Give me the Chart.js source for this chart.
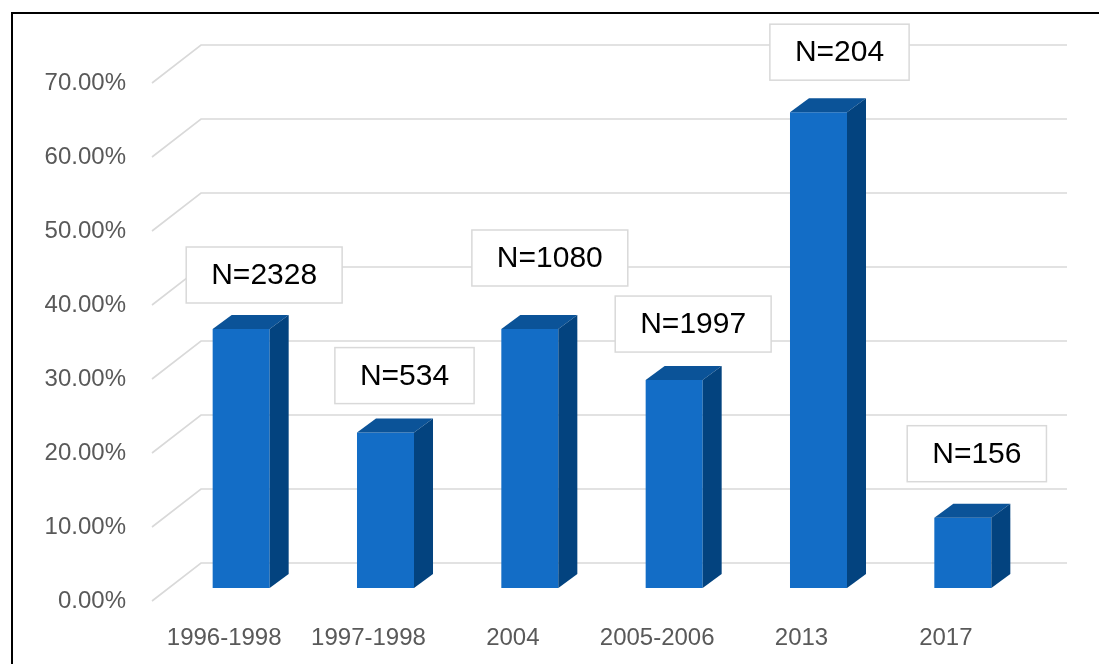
<!DOCTYPE html>
<html>
<head>
<meta charset="utf-8">
<script src="https://cdn.jsdelivr.net/npm/chart.js@4"></script>
<style>
    html, body { margin: 0; padding: 0; background: #ffffff; overflow: hidden; }
    #frame { position: absolute; left: 11px; top: 12px; width: 1200px; height: 800px; border: 2px solid #000; }
    #chart { position: absolute; left: 0; top: 0; }
</style>
</head>
<body>
<div id="frame"></div>
<canvas id="chart" width="1099" height="664"></canvas>
<script>
// ── Data ─────────────────────────────────────────────────────
const periods = ['1996-1998', '1997-1998', '2004', '2005-2006', '2013', '2017'];
const shares = [0.35, 0.21, 0.35, 0.281, 0.643, 0.095];
const sampleSizes = [2328, 534, 1080, 1997, 204, 156];
const yTicks = [0, 0.1, 0.2, 0.3, 0.4, 0.5, 0.6, 0.7];

// ── Look ─────────────────────────────────────────────────────
const FONT = '"Liberation Sans", Arial, sans-serif';
const FRONT = '#136DC6';
const SIDE = '#03437F';
const TOP = '#0B5398';
const GRID = '#D9D9D9';
// depth of each bar, and offset of back wall / front plane from the bar plane
const DEPTH_X = 19, DEPTH_Y = 14;
const BACK_X = 32, BACK_Y = 25;
const FRONT_X = 17, FRONT_Y = 13;
// hand nudges for the data labels (they were dragged in the original)
const labelNudge = [[4, 4], [0, 1], [1, -13], [0, 2], [2, -2], [-5, -6]];

const pct = v => (v * 100).toFixed(2) + '%';

const box3d = {
    id: 'box3d',
    beforeDatasetsDraw(chart) {
        const { ctx, chartArea, scales } = chart;
        ctx.save();
        ctx.strokeStyle = GRID;
        ctx.lineWidth = 1.6;
        yTicks.forEach(v => {
            const y = scales.y.getPixelForValue(v);
            ctx.beginPath();
            ctx.moveTo(chartArea.left - FRONT_X, y + FRONT_Y);
            ctx.lineTo(chartArea.left + BACK_X, y - BACK_Y);
            ctx.lineTo(chartArea.right + BACK_X, y - BACK_Y);
            ctx.stroke();
        });
        ctx.restore();
    },
    afterDatasetsDraw(chart) {
        const { ctx } = chart;
        const bars = chart.getDatasetMeta(0).data;
        ctx.save();
        bars.forEach(bar => {
            const l = bar.x - bar.width / 2, r = bar.x + bar.width / 2;
            const t = bar.y, b = bar.base;
            // top face
            ctx.fillStyle = TOP;
            ctx.beginPath();
            ctx.moveTo(l, t);
            ctx.lineTo(l + DEPTH_X, t - DEPTH_Y);
            ctx.lineTo(r + DEPTH_X, t - DEPTH_Y);
            ctx.lineTo(r, t);
            ctx.closePath();
            ctx.fill();
            // side face
            ctx.fillStyle = SIDE;
            ctx.beginPath();
            ctx.moveTo(r, t);
            ctx.lineTo(r + DEPTH_X, t - DEPTH_Y);
            ctx.lineTo(r + DEPTH_X, b - DEPTH_Y);
            ctx.lineTo(r, b);
            ctx.closePath();
            ctx.fill();
        });

        // data label boxes
        ctx.font = '30px ' + FONT;
        ctx.textAlign = 'center';
        ctx.textBaseline = 'middle';
        bars.forEach((bar, i) => {
            const text = 'N=' + sampleSizes[i];
            const w = ctx.measureText(text).width + 50;
            const h = 56;
            const cx = bar.x + 19 + labelNudge[i][0];
            const cy = bar.y - 58 + labelNudge[i][1];
            ctx.fillStyle = '#ffffff';
            ctx.fillRect(cx - w / 2, cy - h / 2, w, h);
            ctx.strokeStyle = GRID;
            ctx.lineWidth = 1.5;
            ctx.strokeRect(cx - w / 2, cy - h / 2, w, h);
            ctx.fillStyle = '#000000';
            ctx.fillText(text, cx, cy + 1);
        });
        ctx.restore();
    }
};

new Chart(document.getElementById('chart').getContext('2d'), {
    type: 'bar',
    data: {
        labels: periods,
        datasets: [{
            data: shares,
            backgroundColor: FRONT,
            borderWidth: 0,
            barPercentage: 0.395,
            categoryPercentage: 1
        }]
    },
    options: {
        responsive: false,
        animation: false,
        layout: {
            padding: { left: 0, right: 64, top: 70, bottom: 0 }
        },
        plugins: {
            legend: { display: false },
            tooltip: { enabled: false }
        },
        scales: {
            x: {
                grid: { display: false },
                border: { display: false },
                ticks: {
                    color: '#595959',
                    font: { family: FONT, size: 24 },
                    padding: 28,
                    labelOffset: -FRONT_X,
                    maxRotation: 0
                },
                afterFit(scale) { scale.height = 76; }
            },
            y: {
                min: 0,
                max: 0.7,
                grid: { display: false },
                border: { display: false },
                ticks: {
                    stepSize: 0.1,
                    color: '#595959',
                    font: { family: FONT, size: 24 },
                    padding: 35,
                    labelOffset: FRONT_Y,
                    callback: v => pct(v)
                },
                afterFit(scale) { scale.width = 169; }
            }
        }
    },
    plugins: [box3d]
});
</script>
</body>
</html>
